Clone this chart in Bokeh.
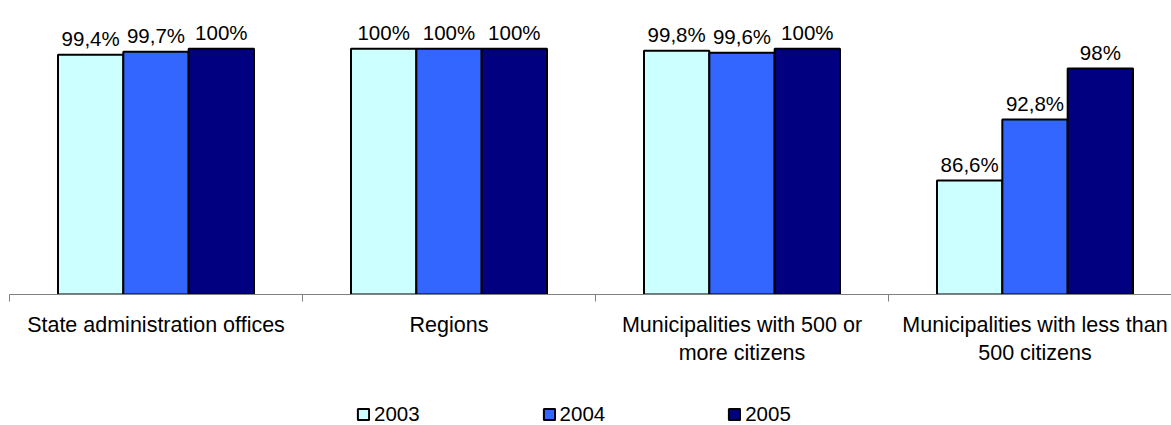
from bokeh.plotting import figure
from bokeh.layouts import column
from bokeh.models import (ColumnDataSource, LinearAxis, FixedTicker, Range1d,
                          Legend, LegendItem)
from bokeh.core.properties import value
from bokeh.embed import file_html
from bokeh.resources import INLINE

# ---- data ----
categories = ["State administration offices", "Regions",
              "Municipalities with 500 or\nmore citizens",
              "Municipalities with less than\n500 citizens"]
years = ["2003", "2004", "2005"]
v2003 = [99.4, 100, 99.8, 86.6]
v2004 = [99.7, 100, 99.6, 92.8]
v2005 = [100, 100, 100, 98]

colors = ["#CCFFFF", "#3366FF", "#000080"]
FONT = "Liberation Sans"
FS = "20.5px"

p = figure(frame_width=1162, frame_height=286, output_backend="svg",
           toolbar_location=None,
           x_range=Range1d(0, 1162 / 293), y_range=Range1d(75, 104.1),
           x_axis_location=None, y_axis_location=None,
           min_border_left=9, min_border_right=0, min_border_top=8,
           min_border_bottom=0)
p.xgrid.visible = False
p.ygrid.visible = False
p.outline_line_color = None
p.background_fill_color = "white"
p.border_fill_color = "white"

bw = 0.223
offsets = [-bw, 0.0, bw]
series = [v2003, v2004, v2005]
for yr, vals, off, col in zip(years, series, offsets, colors):
    xs = [i + 0.5 + off for i in range(len(categories))]
    labels = [f"{v:g}".replace(".", ",") + "%" for v in vals]
    src = ColumnDataSource(dict(x=xs, top=vals, lab=labels))
    p.vbar(x="x", top="top", bottom=75, width=bw, source=src,
           fill_color=col, line_color="black", line_width=2)
    p.text(x="x", y="top", text="lab", source=src, text_align="center",
           text_baseline="alphabetic", y_offset=-16,
           text_font=value(FONT), text_font_size=FS, text_color="black")

# axis with the category boundary ticks
ax1 = LinearAxis(ticker=FixedTicker(ticks=[0, 1, 2, 3]),
                 axis_line_color="#808080", major_tick_line_color="#808080",
                 major_tick_in=0, major_tick_out=7, minor_tick_line_color=None,
                 major_label_text_font_size="0px", major_label_standoff=0,
                 major_label_overrides={0: "", 1: "", 2: "", 3: ""})
p.add_layout(ax1, "below")

# axis carrying the category names
ax2 = LinearAxis(ticker=FixedTicker(ticks=[0.5, 1.5, 2.5, 3.5]),
                 axis_line_color=None, major_tick_line_color=None,
                 minor_tick_line_color=None, major_tick_in=0, major_tick_out=0,
                 major_label_standoff=11,
                 major_label_text_font=FONT, major_label_text_font_size="21.5px",
                 major_label_text_color="black",
                 major_label_overrides={i + 0.5: c for i, c in enumerate(categories)})
p.add_layout(ax2, "below")

# legend strip
q = figure(width=1171, height=59, output_backend="svg", toolbar_location=None,
           x_range=Range1d(0, 1), y_range=Range1d(0, 1),
           x_axis_location=None, y_axis_location=None,
           min_border=0)
q.xgrid.visible = False
q.ygrid.visible = False
q.outline_line_color = None
q.background_fill_color = "white"
q.border_fill_color = "white"
rs = [q.vbar(x=[-10], top=[0], width=0.1, fill_color=c, line_color="black",
             line_width=2) for c in colors]
legend = Legend(items=[LegendItem(label=y, renderers=[r]) for y, r in zip(years, rs)],
                orientation="horizontal", location=(347, 1),
                glyph_width=14, glyph_height=14, label_standoff=4, spacing=122,
                padding=0, margin=0, border_line_color=None,
                background_fill_alpha=0,
                label_text_font=FONT, label_text_font_size=FS,
                label_text_color="black")
q.add_layout(legend, "center")

open("out.html", "w").write(file_html(column(p, q, spacing=0), INLINE))
